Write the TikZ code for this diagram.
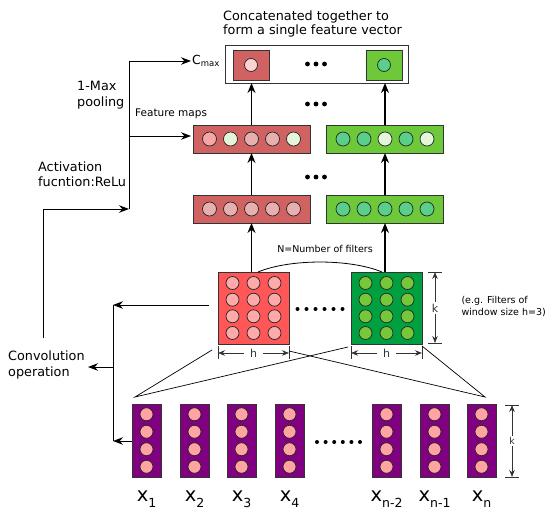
\documentclass[tikz,border=0pt]{standalone}
\usepackage{fontspec}
\setmainfont{DejaVu Sans}
\usetikzlibrary{arrows.meta,calc}
\definecolor{fmred}{HTML}{D06262}
\definecolor{fmgreen}{HTML}{6DC83A}
\definecolor{cpink}{HTML}{F7A5A5}
\definecolor{cmid}{HTML}{E8AFAF}
\definecolor{clight}{HTML}{E5F5DA}
\definecolor{cgreen}{HTML}{5ACF8C}
\definecolor{ctoppink}{HTML}{FFD2D2}
\definecolor{fltred}{HTML}{FF5757}
\definecolor{fltredc}{HTML}{FFAAAA}
\definecolor{fltgreen}{HTML}{00A040}
\definecolor{fltgreenc}{HTML}{76C83A}
\definecolor{inpurple}{HTML}{800080}
\definecolor{incircle}{HTML}{FFA3A3}
\newcommand{\xlab}[1]{{\fontsize{19.5}{20}\selectfont x\raisebox{-0.32em}{\fontsize{12.5}{12}\selectfont #1}}}
\begin{document}
\begin{tikzpicture}[x=1pt,y=-1pt,
  font=\fontsize{12.8}{15.5}\selectfont,
  box/.style={draw=black!80, line width=0.8pt, inner sep=0pt, outer sep=0pt},
  fmap/.style={box, minimum width=117pt, minimum height=28pt},
  filt/.style={box, minimum width=71pt, minimum height=72pt},
  incol/.style={box, fill=inpurple, minimum width=29pt, minimum height=73pt},
  cell/.style={circle, draw=black!85, line width=0.7pt, minimum size=#1, inner sep=0pt},
  cell/.default=14pt,
  bigarr/.style={-{Stealth[length=10pt,width=8pt]}, line width=1.5pt},
  thinarr/.style={-{Stealth[length=10pt,width=7.5pt]}, line width=0.9pt},
  dimarr/.style={-{Stealth[length=7pt,width=5.5pt]}, line width=0.7pt, draw=black!80},
  dimbar/.style={line width=0.9pt, draw=black!80},
  small/.style={font=\fontsize{9.5}{12}\selectfont},
  dimlab/.style={font=\fontsize{11}{12}\selectfont, text=black!80, inner sep=1.5pt}
]
\useasboundingbox (0,0) rectangle (548,510);

% ---------- concatenated feature vector ----------
\node[anchor=west, align=left, inner sep=0pt, font=\fontsize{12.8}{14.5}\selectfont] (title) at (223,24)
  {Concatenated together to\\form a single feature vector};
\node[box, fill=white, minimum width=183pt, minimum height=38pt] (cvec) at (316.5,64) {};
\node[box, fill=fmred, minimum width=36pt, minimum height=30pt] (cred) at (251,65) {};
\node[cell=13pt, fill=ctoppink] (credc) at (cred) {};
\node[box, fill=fmgreen, minimum width=36pt, minimum height=30pt] (cgrn) at (384,65) {};
\node[cell=13pt, fill=cgreen] (cgrnc) at (cgrn) {};
\foreach \dx in {-8.5,0,8.5} \fill (316+\dx,64) circle (2.4pt);
\node[anchor=west, inner sep=1pt] (cmax) at (191,61)
  {\fontsize{12.5}{12}\selectfont C\raisebox{-0.35ex}{\fontsize{8.5}{8}\selectfont max}};

% ---------- feature maps after pooling ----------
\node[fmap, fill=fmred] (fmr2) at (251.5,139) {};
\node[fmap, fill=fmgreen] (fmg2) at (385,139) {};
\foreach \i/\dx/\c in {1/-42/cpink,2/-21/clight,3/0/cmid,4/21/cmid,5/42/clight}
  \node[cell, fill=\c] (fmr2c\i) at ($(fmr2)+(\dx,0)$) {};
\foreach \i/\dx/\c in {1/-42/cgreen,2/-21/cgreen,3/0/clight,4/21/cgreen,5/42/clight}
  \node[cell, fill=\c] (fmg2c\i) at ($(fmg2)+(\dx,0)$) {};
\foreach \dx in {-8.5,0,8.5} \fill (316+\dx,104) circle (2.4pt);

% ---------- feature maps after activation ----------
\node[fmap, fill=fmred] (fmr1) at (251.5,209) {};
\node[fmap, fill=fmgreen] (fmg1) at (385,209) {};
\foreach \i/\dx in {1/-42,2/-21,3/0,4/21,5/42} {
  \node[cell, fill=cmid] (fmr1c\i) at ($(fmr1)+(\dx,0)$) {};
  \node[cell, fill=cgreen] (fmg1c\i) at ($(fmg1)+(\dx,0)$) {};
}
\foreach \dx in {-8.5,0,8.5} \fill (316+\dx,177) circle (2.4pt);

% ---------- filters ----------
\node[filt, fill=fltred] (fr) at (253.5,308) {};
\node[filt, fill=fltgreen] (fg) at (386.5,308) {};
\foreach \r/\dy in {1/-25,2/-8.3,3/8.3,4/25}
  \foreach \c/\dx in {1/-21,2/0,3/21} {
    \node[cell=13pt, fill=fltredc] (fr\r\c) at ($(fr)+(\dx,\dy)$) {};
    \node[cell=13pt, fill=fltgreenc] (fg\r\c) at ($(fg)+(\dx,\dy)$) {};
  }
\foreach \k in {0,...,5} \fill (297.5+9*\k,309) circle (2pt);

% arc labelled with the filter count
\coordinate (arcL) at (258,272);
\coordinate (arcR) at (382,272);
\draw[line width=0.8pt] (arcL) .. controls (290,258.7) and (350,258.7) .. (arcR);
\node[small] (nfilt) at (325,249) {N=Number of filters};

% ---------- vertical data flow ----------
\draw[bigarr] (fr.north -| fmr1c3) -- (fmr1c3 |- fmr1.south);
\draw[bigarr] (fg.north -| fmg1c3) -- (fmg1c3 |- fmg1.south);
\draw[bigarr] (fmr1.north -| fmr1c3) -- (fmr1c3 |- fmr2.south);
\draw[bigarr] (fmg1.north -| fmg1c3) -- (fmg1c3 |- fmg2.south);
\draw[bigarr] (fmr2.north -| fmr1c3) -- (fmr1c3 |- cvec.south);
\draw[bigarr] (fmg2.north -| fmg1c3) -- (fmg1c3 |- cvec.south);

% ---------- filter size annotations ----------
\coordinate (kT) at (435,272);
\coordinate (kB) at (435,343);
\draw[dimbar] ($(kT)+(-7,0)$) -- ($(kT)+(7,0)$);
\draw[dimbar] ($(kB)+(-7,0)$) -- ($(kB)+(7,0)$);
\node[dimlab] (kf) at (435,308) {k};
\draw[dimarr] (kf.north) -- (kT);
\draw[dimarr] (kf.south) -- (kB);
\node[small, anchor=west, align=left] (eg) at (458,307)
  {(e.g. Filters of\\window size h=3)};

\foreach \f/\n in {fr/hr,fg/hg} {
  \draw[dimbar] ($(\f.south west)+(0,2)$) -- ($(\f.south west)+(0,15)$);
  \draw[dimbar] ($(\f.south east)+(0,2)$) -- ($(\f.south east)+(0,15)$);
  \node[dimlab, inner xsep=6pt] (\n) at ($(\f.south)+(0,9)$) {h};
  \draw[dimarr] (\n.west) -- ($(\f.south west)+(0,9)$);
  \draw[dimarr] (\n.east) -- ($(\f.south east)+(0,9)$);
}

% ---------- input word vectors ----------
\foreach \n/\x in {1/146.5,2/194.5,3/241.5,4/289.5,5/386.5,6/434.5,7/481.5} {
  \node[incol] (x\n) at (\x,441) {};
  \foreach \r/\dy in {1/-26.25,2/-8.75,3/8.75,4/26.25}
    \node[cell=13pt, fill=incircle] (x\n c\r) at ($(x\n)+(0,\dy-0.5)$) {};
}
\foreach \k in {0,...,5} \fill (317+8.6*\k,442) circle (2pt);
\foreach \n/\t in {1/1,2/2,3/3,4/4,5/n-2,6/n-1,7/n}
  \node[inner sep=0pt] (lab\n) at ($(x\n)+(0,58)$) {\xlab{\t}};

\coordinate (kiT) at (512,405);
\coordinate (kiB) at (512,477);
\draw[dimbar] ($(kiT)+(-7,0)$) -- ($(kiT)+(7,0)$);
\draw[dimbar] ($(kiB)+(-7,0)$) -- ($(kiB)+(7,0)$);
\node[dimlab, font=\fontsize{9.5}{11}\selectfont] (ki) at (512,441) {k};
\draw[dimarr] (ki.north) -- (kiT);
\draw[dimarr] (ki.south) -- (kiB);

% ---------- filters sliding over the inputs ----------
\coordinate (frA) at (212,350);
\coordinate (frB) at (289,351);
\coordinate (fgA) at (348,347);
\coordinate (fgB) at (422,346);
\coordinate (inL) at (135,397);
\coordinate (inR) at (485,397);
\draw[line width=0.7pt] (frA) -- (inL) -- (fgA);
\draw[line width=0.7pt] (frB) -- (inR) -- (fgB);

% ---------- left side process labels ----------
\node[anchor=west, align=left, inner sep=0pt] (conv) at (8,365) {Convolution\\operation};
\node[anchor=west, align=left, inner sep=0pt] (act) at (38,174) {Activation\\fucntion:ReLu};
\node[anchor=west, align=left, inner sep=0pt] (pool) at (77,95) {1-Max\\pooling};
\node[anchor=west, inner sep=0pt, font=\fontsize{10.5}{11}\selectfont] (fmlab) at (135,114) {Feature maps};

\coordinate (cTop) at (113,305);
\coordinate (cMid) at (113,367);
\coordinate (cBot) at (113,441);
\coordinate (frOut) at (209,305);
\coordinate (convTip) at (88,367);
\draw[line width=0.9pt] (cTop) -- (cBot);
\draw[thinarr] (frOut) -- (cTop);
\draw[thinarr] (x1.west) -- (cBot);
\draw[thinarr] (cMid) -- (convTip);

\coordinate (aStart) at (43,338);
\coordinate (jA) at (129,209);
\coordinate (jMid) at (129,136);
\coordinate (jTop) at (129,61);
\draw[thinarr] (aStart) -- (aStart |- jA) -- (jA);
\draw[thinarr] (jA) -- (jTop) -- (cmax.west);
\draw[thinarr, shorten >=2pt] (jMid) -- (jMid -| fmr2.west);
\end{tikzpicture}
\end{document}
